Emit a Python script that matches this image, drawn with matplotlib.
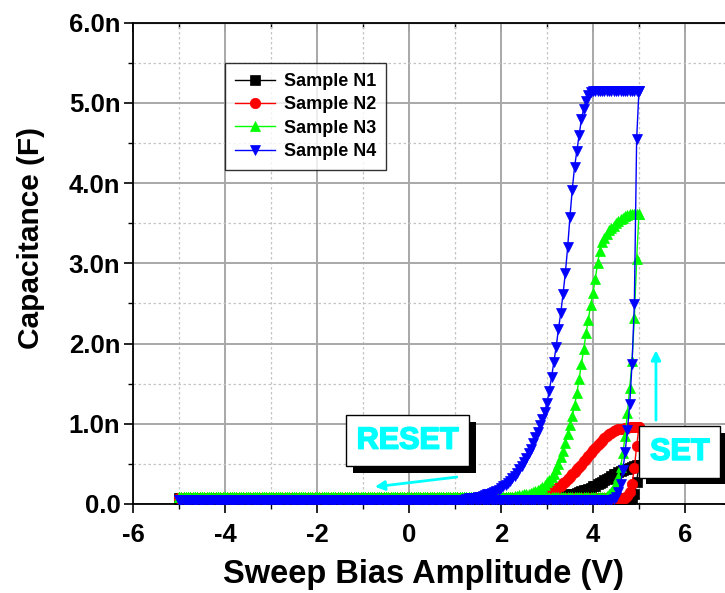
import numpy as np
import matplotlib.pyplot as plt
from matplotlib import patheffects
from matplotlib.ticker import MultipleLocator, FuncFormatter

plt.rcParams['font.family'] = ['Liberation Sans', 'DejaVu Sans']
plt.rcParams['axes.unicode_minus'] = False

# bias sweep: -5 V -> +5 V (SET) then +5 V -> -5 V (RESET), 0.05 V step
bias_up = np.round(np.linspace(-5, 5, 201), 2)
bias_down = bias_up[::-1]

labels = ["Sample N1", "Sample N2", "Sample N3", "Sample N4"]
colors = ["#000000", "#ff0000", "#00ff00", "#0000ff"]
markers = ["s", "o", "^", "v"]

# flat level (nF) of each branch far from the switching region
set_base = [0.04, 0.08, 0.09, 0.05]
reset_base = [0.07, 0.08, 0.09, 0.05]

# SET branch, last points up to +5 V (nF)
n1_set = [0.05, 0.07, 0.12, 0.28, 0.48]
n2_set = [0.08, 0.10, 0.15, 0.25, 0.45, 0.72, 0.96]
n3_set = [0.09, 0.10, 0.12, 0.15, 0.20, 0.26, 0.34, 0.46, 0.63, 0.85,
          1.13, 1.45, 1.78, 2.32, 3.05, 3.62]
n4_set = [0.05, 0.06, 0.09, 0.15, 0.25, 0.42, 0.65, 0.92, 1.25, 1.75,
          2.49, 4.55, 5.15]

# RESET branch, first points from +5 V downward (nF)
n1_reset = [0.48, 0.48, 0.47, 0.46, 0.45, 0.44, 0.43, 0.42, 0.41, 0.40,
            0.38, 0.37, 0.35, 0.33, 0.31, 0.30, 0.28, 0.26, 0.25, 0.23,
            0.22, 0.20, 0.19, 0.18, 0.17, 0.16, 0.15, 0.14, 0.13, 0.12,
            0.12, 0.11, 0.11, 0.10, 0.10, 0.09, 0.09, 0.08, 0.08]
n2_reset = [0.96, 0.96, 0.96, 0.96, 0.96, 0.95, 0.95, 0.94, 0.94, 0.93,
            0.92, 0.91, 0.89, 0.87, 0.85, 0.82, 0.79, 0.76, 0.73, 0.70,
            0.67, 0.63, 0.60, 0.56, 0.53, 0.49, 0.46, 0.43, 0.40, 0.37,
            0.34, 0.31, 0.28, 0.26, 0.23, 0.21, 0.19, 0.18, 0.16, 0.15,
            0.14, 0.13, 0.12, 0.12, 0.11, 0.11, 0.10, 0.10, 0.09, 0.09]
n3_reset = [3.62, 3.62, 3.62, 3.61, 3.61, 3.60, 3.59, 3.57, 3.55, 3.53,
            3.50, 3.47, 3.44, 3.41, 3.37, 3.32, 3.26, 3.16, 3.00, 2.80,
            2.63, 2.48, 2.30, 2.13, 1.93, 1.75, 1.56, 1.38, 1.23, 1.10,
            0.98, 0.87, 0.76, 0.66, 0.58, 0.50, 0.44, 0.38, 0.34, 0.30,
            0.27, 0.24, 0.21, 0.19, 0.17, 0.16, 0.15, 0.14, 0.13, 0.12,
            0.12, 0.11, 0.11, 0.10, 0.10]
n4_reset = [5.15, 5.15, 5.15, 5.15, 5.15, 5.15, 5.15, 5.15, 5.15, 5.15,
            5.15, 5.15, 5.15, 5.15, 5.15, 5.15, 5.15, 5.15, 5.15, 5.15,
            5.15, 5.14, 5.10, 5.03, 4.93, 4.80, 4.60, 4.40, 4.20, 3.92,
            3.58, 3.20, 2.88, 2.62, 2.38, 2.18, 1.96, 1.77, 1.58, 1.41,
            1.26, 1.15, 1.06, 0.98, 0.90, 0.83, 0.76, 0.69, 0.63, 0.57,
            0.52, 0.47, 0.43, 0.39, 0.35, 0.32, 0.29, 0.26, 0.24, 0.22,
            0.20, 0.18, 0.16, 0.15, 0.14, 0.13, 0.12, 0.11, 0.10, 0.09,
            0.09, 0.08, 0.08, 0.07, 0.07, 0.06]

set_tails = [n1_set, n2_set, n3_set, n4_set]
reset_tails = [n1_reset, n2_reset, n3_reset, n4_reset]

fig = plt.figure(figsize=(7.25, 5.93), dpi=100)
ax = fig.add_axes([0.1834, 0.1501, 0.8248, 0.8116])

for i in range(4):
    c_up = np.full(bias_up.size, set_base[i])
    c_up[-len(set_tails[i]):] = set_tails[i]
    c_down = np.full(bias_down.size, reset_base[i])
    c_down[:len(reset_tails[i])] = reset_tails[i]
    x = np.concatenate([bias_up, bias_down])
    y = np.concatenate([c_up, c_down])
    ax.plot(x, y, color=colors[i], marker=markers[i], markersize=7.5,
            mec=colors[i], mew=0.5, lw=1.0, label=labels[i], zorder=3 + i)

ax.set_xlim(-6, 7)
ax.set_ylim(0, 6)
ax.set_xticks([-6, -4, -2, 0, 2, 4, 6])
ax.xaxis.set_minor_locator(MultipleLocator(1))
ax.yaxis.set_major_locator(MultipleLocator(1))
ax.yaxis.set_minor_locator(MultipleLocator(0.5))
ax.yaxis.set_major_formatter(FuncFormatter(lambda v, p: "0.0" if v == 0 else f"{v:.1f}n"))

ax.grid(which='major', color='#a8a8a8', lw=1.4, zorder=0)
ax.grid(which='minor', color='#c4c4c4', lw=0.9, ls=(0, (2, 2)), zorder=0)
ax.set_axisbelow(True)

for s in ax.spines.values():
    s.set_linewidth(1.3)
ax.tick_params(which='major', direction='out', length=6.5, width=1.2,
               labelsize=18.5, pad=7)
ax.tick_params(which='minor', direction='out', length=3.5, width=1.0)
ax.tick_params(axis='y', which='major', pad=2.5)
for lab in ax.get_xticklabels() + ax.get_yticklabels():
    lab.set_fontweight('bold')

# mirrored ticks pointing in on top and right
sx = ax.secondary_xaxis('top')
sx.set_xticks([-6, -4, -2, 0, 2, 4, 6])
sx.xaxis.set_minor_locator(MultipleLocator(1))
sx.tick_params(which='major', direction='in', length=6.5, width=1.2, labeltop=False)
sx.tick_params(which='minor', direction='in', length=3.5, width=1.0)
sy = ax.secondary_yaxis('right')
sy.yaxis.set_major_locator(MultipleLocator(1))
sy.yaxis.set_minor_locator(MultipleLocator(0.5))
sy.tick_params(which='major', direction='in', length=6.5, width=1.2, labelright=False)
sy.tick_params(which='minor', direction='in', length=3.5, width=1.0)

ax.set_xlabel("Sweep Bias Amplitude (V)", fontsize=23.5, fontweight='bold')
ax.set_ylabel("Capacitance (F)", fontsize=21.5, fontweight='bold')
ax.xaxis.set_label_coords(0.486, -0.115)
ax.yaxis.set_label_coords(-0.147, 0.553)

leg = ax.legend(loc='upper left', bbox_to_anchor=(0.154, 0.916), borderaxespad=0,
                prop={'size': 13, 'weight': 'bold'}, frameon=True, fancybox=False,
                edgecolor='black', handlelength=2.2, labelspacing=0.35,
                borderpad=0.55, handletextpad=0.5)
leg.get_frame().set_linewidth(1.0)
leg.set_zorder(10)

shadow = [patheffects.SimplePatchShadow(offset=(5, -5), shadow_rgbFace='black', alpha=1.0),
          patheffects.Normal()]
thick = [patheffects.Stroke(linewidth=1.2, foreground='#00ffff'), patheffects.Normal()]
for txt, xv, yv in [("RESET", -0.03, 0.79), ("SET", 5.89, 0.65)]:
    t = ax.text(xv, yv, txt, color='#00ffff', fontsize=22, fontweight='bold',
                ha='center', va='center', zorder=12, path_effects=thick,
                bbox=dict(boxstyle='square,pad=0.35', fc='white', ec='black', lw=1.0))
    t.get_bbox_patch().set_path_effects(shadow)

ax.annotate('', xy=(-0.8, 0.21), xytext=(1.1, 0.34), zorder=12,
            arrowprops=dict(arrowstyle='-|>', color='#00ffff', lw=2, mutation_scale=14))
ax.annotate('', xy=(5.37, 1.95), xytext=(5.37, 1.01), zorder=12,
            arrowprops=dict(arrowstyle='-|>', color='#00ffff', lw=2, mutation_scale=14))

fig.savefig("out.png", dpi=100)
